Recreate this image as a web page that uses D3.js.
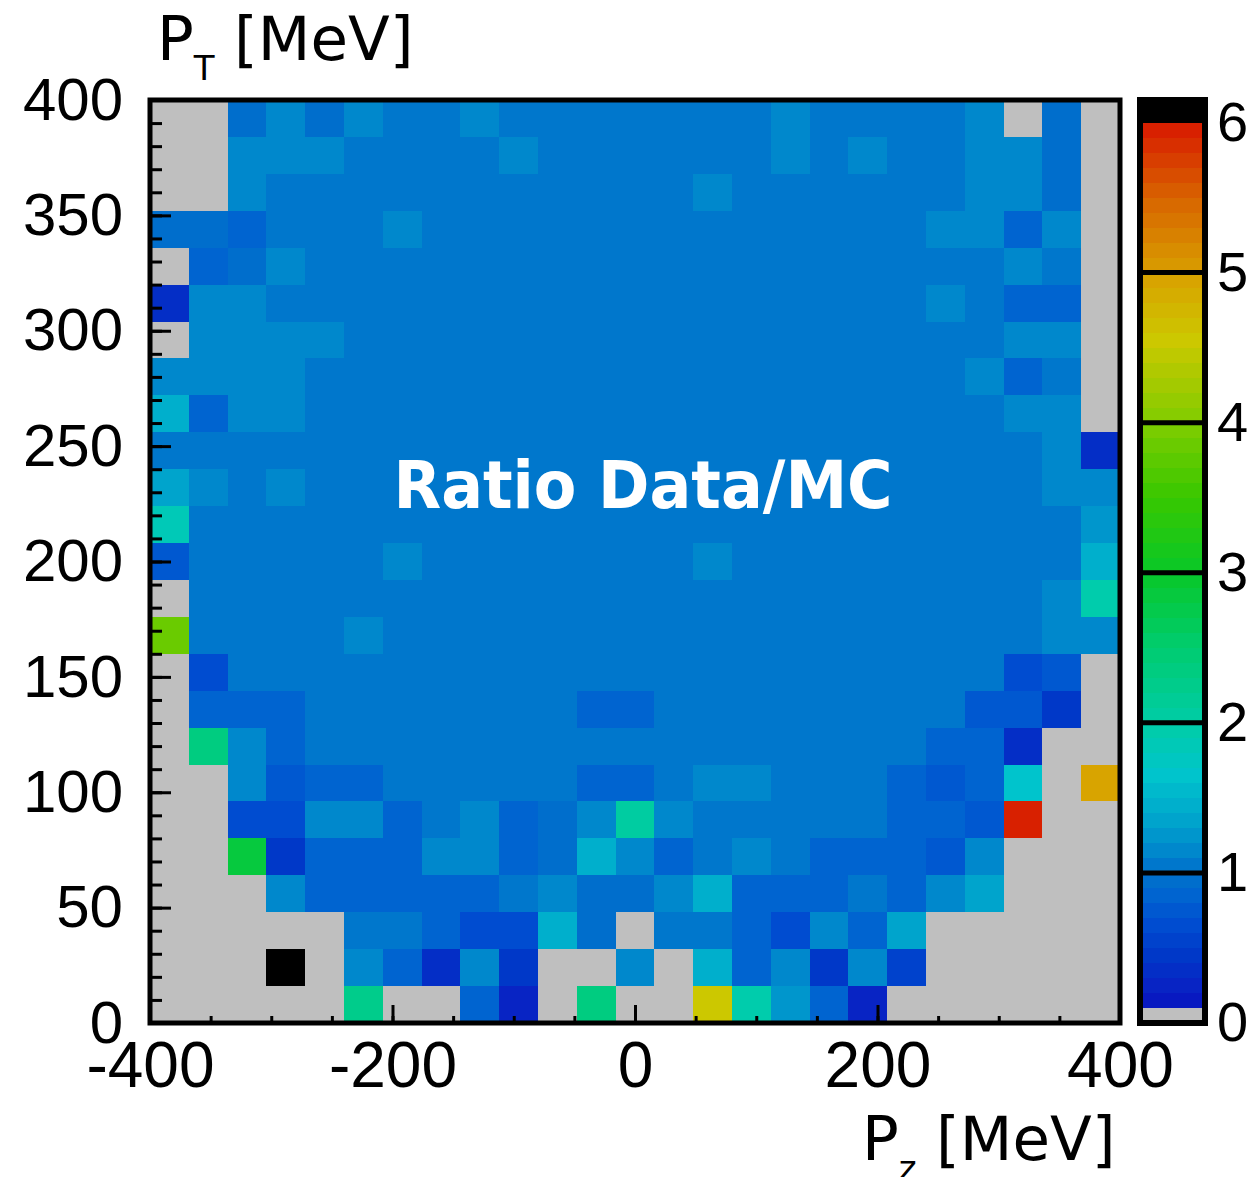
<!DOCTYPE html>
<html><head><meta charset="utf-8">
<script src="https://cdn.jsdelivr.net/npm/d3@7"></script>
<style>html,body{margin:0;padding:0;background:#fff;} svg{display:block;}</style>
</head><body>
<svg id="chart" width="1250" height="1177"></svg>
<script>
// ---- Data ----
const pzEdges = [-400,-368,-336,-304,-272,-240,-208,-176,-144,-112,-80,-48,-16,16,48,80,112,144,176,208,240,272,304,336,368,400];
const ptEdges = [0,16,32,48,64,80,96,112,128,144,160,176,192,208,224,240,256,272,288,304,320,336,352,368,384,400];
// Ratio Data/MC per bin, rows listed from the top (P_T 384-400) down to the bottom (P_T 0-16); 0 = empty bin
const ratioRows = [
 [0,0,0.95,1.15,0.95,1.15,1,1,1.15,1,1,1,1,1,1,1,1.15,1,1,1,1,1.15,0,0.95,0],
 [0,0,1.15,1.15,1.15,1,1,1,1,1.15,1,1,1,1,1,1,1.15,1,1.15,1,1,1.15,1.15,0.95,0],
 [0,0,1.15,1,1,1,1,1,1,1,1,1,1,1,1.15,1,1,1,1,1,1,1.15,1.15,0.95,0],
 [0.95,0.95,0.85,1,1,1,1.15,1,1,1,1,1,1,1,1,1,1,1,1,1,1.15,1.15,0.85,1.15,0],
 [0,0.85,0.95,1.15,1,1,1,1,1,1,1,1,1,1,1,1,1,1,1,1,1,1,1.15,1,0],
 [0.3,1.15,1.15,1,1,1,1,1,1,1,1,1,1,1,1,1,1,1,1,1,1.15,1,0.8,0.8,0],
 [0,1.15,1.15,1.15,1.15,1,1,1,1,1,1,1,1,1,1,1,1,1,1,1,1,1,1.15,1.15,0],
 [1.15,1.15,1.15,1.15,1,1,1,1,1,1,1,1,1,1,1,1,1,1,1,1,1,1.15,0.8,1,0],
 [1.4,0.85,1.15,1.15,1,1,1,1,1,1,1,1,1,1,1,1,1,1,1,1,1,1,1.15,1.15,0],
 [1,1,1,1,1,1,1,1,1,1,1,1,1,1,1,1,1,1,1,1,1,1,1,1.15,0.3],
 [1.3,1.15,1,1.15,1,1,1,1,1,1,1,1,1,1,1,1,1,1,1,1,1,1,1,1.15,1.15],
 [1.8,1,1,1,1,1,1,1,1,1,1,1,1,1,1,1,1,1,1,1,1,1,1,1,1.25],
 [0.75,1,1,1,1,1,1.15,1,1,1,1,1,1,1,1.15,1,1,1,1,1,1,1,1,1,1.4],
 [0,1,1,1,1,1,1,1,1,1,1,1,1,1,1,1,1,1,1,1,1,1,1,1.15,1.9],
 [3.8,1,1,1,1,1.15,1,1,1,1,1,1,1,1,1,1,1,1,1,1,1,1,1,1.15,1.15],
 [0,0.65,1,1,1,1,1,1,1,1,1,1,1,1,1,1,1,1,1,1,1,1,0.65,0.75,0],
 [0,0.8,0.8,0.8,1,1,1,1,1,1,1,0.8,0.8,1,1,1,1,1,1,1,1,0.75,0.75,0.4,0],
 [0,2.3,1.15,0.8,1,1,1,1,1,1,1,1,1,1,1,1,1,1,1,1,0.8,0.8,0.3,0,0],
 [0,0,1.1,0.7,0.8,0.8,1,1,1,1,1,0.8,0.8,1,1.15,1.15,1,1,1,0.8,0.7,0.8,1.6,0,4.95],
 [0,0,0.6,0.6,1.1,1.1,0.85,1,1.15,0.85,0.95,1.15,2.0,1.15,1,1,1,1,1,0.85,0.85,0.7,5.9,0,0],
 [0,0,2.8,0.45,0.8,0.8,0.8,1.1,1.1,0.8,0.9,1.4,1.15,0.8,1,1.15,1,0.8,0.8,0.8,0.7,1.15,0,0,0],
 [0,0,0,1.15,0.8,0.8,0.8,0.8,0.8,1.05,1.1,0.95,0.95,1.15,1.4,0.8,0.8,0.8,1,0.85,1.1,1.3,0,0,0],
 [0,0,0,0,0,1,1,0.8,0.65,0.65,1.4,0.95,0,1,1,0.8,0.6,1.15,0.8,1.3,0,0,0,0,0],
 [0,0,0,6.1,0,1.15,0.8,0.35,1.15,0.4,0,0,1.15,0,1.4,0.8,1.1,0.45,1.15,0.5,0,0,0,0,0],
 [0,0,0,0,0,2.2,0,0,0.8,0.2,0,2.3,0,0,4.55,1.9,1.25,0.8,0.2,0,0,0,0,0,0]
];
const pzTicks = [-400,-200,0,200,400];
const ptTicks = [0,50,100,150,200,250,300,350,400];
const ratioTicks = [0,1,2,3,4,5,6];

// ---- Palette (ROOT-like) ----
const paletteStops = [
 [0.1,"#0814c0"],[0.25,"#0824c4"],[0.45,"#0038c8"],[0.65,"#004cd0"],[0.75,"#0058d0"],
 [0.85,"#0064d0"],[0.95,"#006ecc"],[1.05,"#0077cc"],[1.15,"#0088cc"],[1.35,"#00a4cc"],
 [1.65,"#00c4cc"],[1.95,"#00ccac"],[2.5,"#00cc70"],[3.0,"#08c828"],[3.5,"#38c800"],
 [4.0,"#80cc00"],[4.55,"#ccc800"],[4.95,"#d8a400"],[5.5,"#d86400"],[5.95,"#d82000"]
];
const palette = d3.scaleLinear()
  .domain(paletteStops.map(d => d[0]))
  .range(paletteStops.map(d => d[1]))
  .interpolate(d3.interpolateRgb).clamp(true);
const bandWidth = 0.1, zMax = 6.15;
function colorFor(v) {
  if (v < 0.1) return "#bfbfbf";
  if (v >= 6.0) return "#000000";
  const k = Math.floor(v / bandWidth + 1e-6);
  return palette(k * bandWidth + bandWidth / 2);
}
const plain = d => String(d);

// ---- Layout ----
const svg = d3.select("#chart");
const x = d3.scaleLinear().domain([-400, 400]).range([150, 1120]);
const y = d3.scaleLinear().domain([0, 400]).range([1023, 100]);
const z = d3.scaleLinear().domain([0, zMax]).range([1023, 100]);

const nRows = ratioRows.length;
const cells = [];
ratioRows.forEach((row, r) => {
  const j = nRows - 1 - r;
  row.forEach((v, i) => cells.push({x0: pzEdges[i], x1: pzEdges[i+1], y0: ptEdges[j], y1: ptEdges[j+1], v}));
});

svg.append("g").selectAll("rect").data(cells).join("rect")
  .attr("x", d => x(d.x0)).attr("y", d => y(d.y1))
  .attr("width", d => x(d.x1) - x(d.x0)).attr("height", d => y(d.y0) - y(d.y1))
  .attr("fill", d => colorFor(d.v))
  .attr("shape-rendering", "crispEdges");

// Title inside plot
svg.append("text")
  .attr("transform", "translate(643,508) scale(1,1.06)")
  .attr("text-anchor", "middle")
  .attr("font-family", "DejaVu Sans").attr("font-weight", "bold")
  .attr("font-size", 62).attr("fill", "#ffffff")
  .text("Ratio Data/MC");

// ---- Axes ----
function styleAxis(g) {
  g.select(".domain").remove();
  g.selectAll(".tick line").attr("stroke", "#000").attr("stroke-width", 3);
}
// y minor
svg.append("g").attr("transform", "translate(150,0)")
  .call(d3.axisLeft(y).tickValues(d3.range(0, 401, 10)).tickSize(-12).tickFormat(""))
  .call(styleAxis);
// y major + labels
const yAx = svg.append("g").attr("transform", "translate(150,0)")
  .call(d3.axisLeft(y).tickValues(ptTicks).tickSize(-21).tickPadding(27).tickFormat(plain))
  .call(styleAxis);
yAx.selectAll("text").attr("font-family", "Liberation Sans").attr("font-size", 60).attr("fill", "#000");

// x minor
svg.append("g").attr("transform", "translate(0,1023)")
  .call(d3.axisBottom(x).tickValues(d3.range(-400, 401, 50)).tickSize(-7).tickFormat(""))
  .call(styleAxis);
const xAx = svg.append("g").attr("transform", "translate(0,1023)")
  .call(d3.axisBottom(x).tickValues(pzTicks).tickSize(-18).tickPadding(19).tickFormat(plain))
  .call(styleAxis);
xAx.selectAll("text").attr("font-family", "Liberation Sans").attr("font-size", 64).attr("fill", "#000");

// plot frame
svg.append("rect").attr("x", 150).attr("y", 100).attr("width", 970).attr("height", 923)
  .attr("fill", "none").attr("stroke", "#000").attr("stroke-width", 5);

// ---- Color bar ----
const bands = d3.range(0, Math.ceil(zMax / bandWidth)).map(k => ({lo: k * bandWidth, hi: Math.min((k + 1) * bandWidth, zMax)}));
svg.append("g").selectAll("rect").data(bands).join("rect")
  .attr("x", 1140).attr("width", 65)
  .attr("y", d => z(d.hi)).attr("height", d => z(d.lo) - z(d.hi) + 0.5)
  .attr("fill", d => colorFor(d.lo + bandWidth / 2))
  .attr("shape-rendering", "crispEdges");
svg.append("g").selectAll("line").data(ratioTicks.filter(t => t > 0 && t < 6)).join("line")
  .attr("x1", 1140).attr("x2", 1205)
  .attr("y1", d => z(d)).attr("y2", d => z(d))
  .attr("stroke", "#000").attr("stroke-width", 5);
svg.append("rect").attr("x", 1140).attr("y", 100).attr("width", 65).attr("height", 923)
  .attr("fill", "none").attr("stroke", "#000").attr("stroke-width", 6);
const zAx = svg.append("g").attr("transform", "translate(1205,0)")
  .call(d3.axisRight(z).tickValues(ratioTicks).tickSize(0).tickPadding(12).tickFormat(plain))
  .call(g => g.select(".domain").remove());
zAx.selectAll("text").attr("font-family", "Liberation Sans").attr("font-size", 56).attr("fill", "#000");

// ---- Axis titles ----
function axisTitle(x0, base, sub) {
  const t = svg.append("text").attr("x", x0).attr("y", base)
    .attr("font-family", "DejaVu Sans").attr("font-size", 61).attr("fill", "#000");
  t.append("tspan").text("P");
  t.append("tspan").attr("font-size", 34).attr("dy", 20).text(sub);
  t.append("tspan").attr("dy", -20).text(" [MeV]");
}
axisTitle(157, 60, "T");
axisTitle(862, 1160, "z");
</script>
</body></html>
